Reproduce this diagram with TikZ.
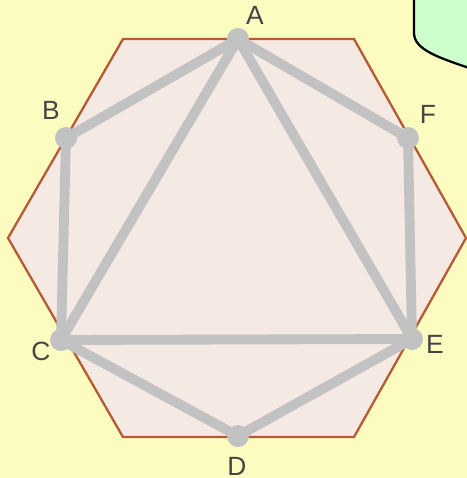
\documentclass[tikz,border=0pt]{standalone}
\usepackage{fontspec}
\setmainfont{Liberation Sans}
\usetikzlibrary{positioning}
\definecolor{paper}{HTML}{FCFCC0}
\definecolor{hexfill}{HTML}{F5E9E4}
\definecolor{hexedge}{HTML}{B65A34}
\definecolor{segment}{HTML}{C2C2C2}
\definecolor{notebox}{HTML}{CCFFCC}
\definecolor{labeltext}{HTML}{444444}

\begin{document}
\begin{tikzpicture}[
    x=0.02cm, y=-0.02cm,
    dot/.style={circle, fill=segment, inner sep=0pt, minimum size=0.44cm},
    chord/.style={draw=segment, line width=5.6pt, line cap=round},
    lbl/.style={font=\fontsize{15}{15}\selectfont\color{labeltext}, inner sep=0pt},
]
    \fill[paper] (0,0) rectangle (467,478);
    \useasboundingbox (0,0) rectangle (467,478);

    % hexagon
    \filldraw[fill=hexfill, draw=hexedge, line width=1.3pt]
        (123,39) -- (354,39) -- (466,238) -- (354,437) -- (123,437) -- (8,238) -- cycle;

    % note box, top right
    \filldraw[fill=notebox, draw=black, line width=1.3pt]
        (414,-5) -- (414,33) .. controls (414,50) and (440,58) .. (472,69) -- (472,-5) -- cycle;

    \node[dot] (A) at (238,39) {};
    \node[dot] (B) at (66,138) {};
    \node[dot] (C) at (61,340) {};
    \node[dot] (D) at (238,436) {};
    \node[dot] (E) at (412,339) {};
    \node[dot] (F) at (408,138) {};

    \draw[chord] (A.center) -- (B.center) -- (C.center) -- (D.center) -- (E.center) -- (F.center) -- (A.center);
    \draw[chord] (A.center) -- (C.center) -- (E.center) -- (A.center);

    \node[lbl] (labelA) at (255,15) {A};
    \node[lbl] (labelB) at (51,110) {B};
    \node[lbl] (labelC) at (41,351) {C};
    \node[lbl] (labelD) at (237,466) {D};
    \node[lbl] (labelE) at (435,344) {E};
    \node[lbl] (labelF) at (428,114) {F};
\end{tikzpicture}
\end{document}
